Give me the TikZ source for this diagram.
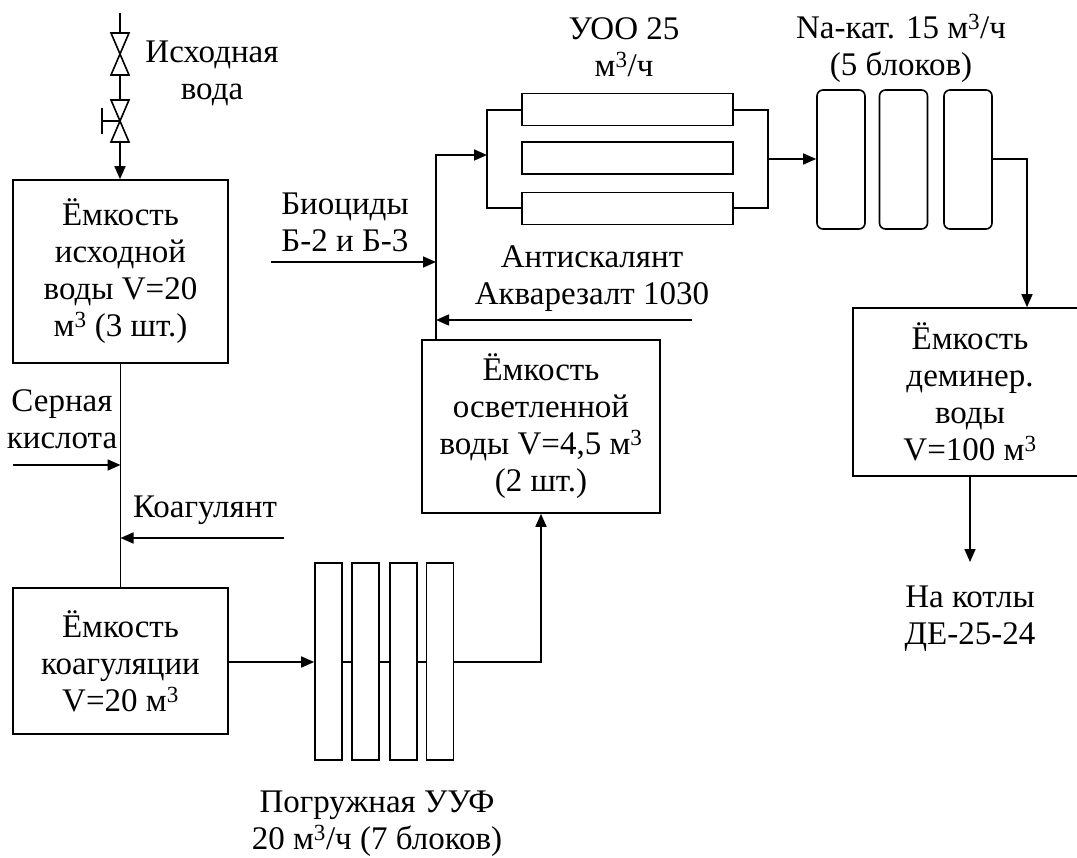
\documentclass[tikz,border=0pt]{standalone}
\usepackage{fontspec}
\setmainfont{Liberation Serif}
\usetikzlibrary{arrows.meta}
\begin{document}
\begin{tikzpicture}[x=1pt,y=-1pt,line width=1.6pt,
  every node/.style={font=\fontsize{33}{37}\selectfont, inner sep=0pt, align=center},
  tank/.style={draw, rectangle},
  col/.style={draw, rectangle, minimum width=27pt, minimum height=197pt},
  mem/.style={draw, rectangle, minimum width=211pt, minimum height=32pt},
  ion/.style={draw, rectangle, rounded corners=6pt, minimum width=48pt, minimum height=139pt},
  arr/.style={-{Triangle[length=13pt,width=11pt]}}]
\useasboundingbox (0,0) rectangle (1077,858);
% tanks
\node[tank, minimum width=215pt, minimum height=183pt] (b1) at (120.5,271.5) {Ёмкость\\исходной\\воды V=20\\м\textsuperscript{3} (3 шт.)};
\node[tank, minimum width=215pt, minimum height=146pt] (b2) at (120.5,661) {Ёмкость\\коагуляции\\V=20 м\textsuperscript{3}};
\node[tank, minimum width=238pt, minimum height=173pt] (b3) at (541,426.5) {Ёмкость\\осветленной\\воды V=4,5 м\textsuperscript{3}\\(2 шт.)};
\node[tank, minimum width=234pt, minimum height=168pt] (b4) at (970,392) {Ёмкость\\деминер.\\воды\\V=100 м\textsuperscript{3}};
% labels
\node (lsrc) at (212,73) {Исходная\\вода};
\node (lbio) at (345,222) {Биоциды\\Б-2 и Б-3};
\node (lacid) at (62,419) {Серная\\кислота};
\node (lcoag) at (205,510) {Коагулянт};
\node (lanti) at (592,279) {Антискалянт\\Акварезалт 1030};
\node (luoo) at (624,47) {УОО 25\\м\textsuperscript{3}/ч};
\node (lna) at (901,48) {Na-кат. 15 м\textsuperscript{3}/ч\\(5 блоков)};
\node (luuf) at (377,824) {Погружная УУФ\\20 м\textsuperscript{3}/ч (7 блоков)};
\node (lout) at (970,619) {На котлы\\ДЕ-25-24};
% valves
\coordinate (vtop) at (120,13);
\coordinate (v1t) at (120,33);
\coordinate (v1b) at (120,75);
\coordinate (v2t) at (120,100);
\coordinate (v2m) at (120,121);
\coordinate (v2b) at (120,142);
\draw (vtop) -- (v1t);
\draw (111,33) -- (129,33) -- (111,75) -- (129,75) -- cycle;
\draw (v1b) -- (v2t);
\draw (111,100) -- (129,100) -- (111,142) -- (129,142) -- cycle;
\draw (v2m) -- (102,121);
\draw (102,108) -- (102,134);
\draw[arr] (v2b) -- (v2b |- b1.north);
% b1 -> b2 with dosing
\draw (b1.south) -- (b2.north);
\coordinate (acid0) at (13,465);
\coordinate (acid1) at (120.5,465);
\draw[arr] (acid0) -- (acid1);
\coordinate (coag0) at (284,538);
\coordinate (coag1) at (120.5,538);
\draw[arr] (coag0) -- (coag1);
% UUF
\node[col] (u1) at (328.5,661.5) {};
\node[col] (u2) at (365.5,661.5) {};
\node[col] (u3) at (403.5,661.5) {};
\node[col] (u4) at (440,661.5) {};
\draw[arr] (b2.east |- 0,662) -- (u1.west |- 0,662);
\draw (u1.east |- 0,662) -- (u2.west |- 0,662);
\draw (u2.east |- 0,662) -- (u3.west |- 0,662);
\draw (u3.east |- 0,662) -- (u4.west |- 0,662);
\coordinate (uufout) at (541,662);
\draw[arr] (u4.east |- uufout) -- (uufout) -- (b3.south);
% riser to UOO
\coordinate (rb) at (436,340);
\coordinate (uooin) at (487,155);
\draw[arr] (rb) |- (uooin);
\coordinate (bio0) at (271,262);
\coordinate (bio1) at (436,262);
\draw[arr] (bio0) -- (bio1);
\coordinate (anti0) at (692,320);
\coordinate (anti1) at (436,320);
\draw[arr] (anti0) -- (anti1);
% UOO
\node[mem] (r1) at (627.5,109.5) {};
\node[mem] (r2) at (627.5,158) {};
\node[mem] (r3) at (627.5,208.5) {};
\coordinate (hl1) at (487,110);
\coordinate (hl2) at (487,208);
\coordinate (hr1) at (768,110);
\coordinate (hr2) at (768,208);
\draw (r1.west |- hl1) -- (hl1) -- (hl2) -- (r3.west |- hl2);
\draw (r1.east |- hr1) -- (hr1) -- (hr2) -- (r3.east |- hr2);
\coordinate (uooout) at (768,159);
% Na-cation
\node[ion] (n1) at (841,159.5) {};
\node[ion] (n2) at (903.5,159.5) {};
\node[ion] (n3) at (968,159.5) {};
\draw[arr] (uooout) -- (n1.west |- uooout);
\coordinate (nabend) at (1027,159);
\draw[arr] (n3.east |- nabend) -- (nabend) -- (nabend |- b4.north);
% outlet
\coordinate (outend) at (970,562);
\draw[arr] (b4.south) -- (outend);
\end{tikzpicture}
\end{document}
